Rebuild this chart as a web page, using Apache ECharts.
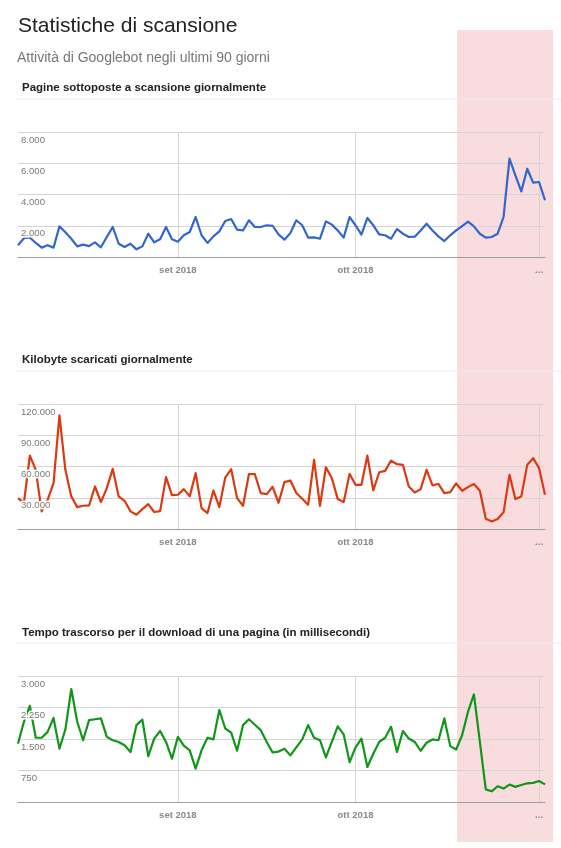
<!DOCTYPE html>
<html><head><meta charset="utf-8">
<script src="https://cdn.jsdelivr.net/npm/echarts@6/dist/echarts.min.js"></script>
<style>html,body{margin:0;padding:0;background:#fff}#c{width:561px;height:848px}</style>
</head><body><div id="c"></div>
<script>
// ---- data ----
const firstDay = '2018-08-05';
const pagesPerDay = [750,1200,1250,900,600,750,600,1960,1580,1170,680,790,700,940,620,1280,1920,850,640,850,
  490,680,1490,940,1130,1920,1130,980,1390,1600,2560,1390,900,1320,1640,2300,2430,1750,1700,2350,
  1920,1920,2030,2000,1450,1110,1540,2350,2030,1240,1260,1170,2280,2070,1700,1240,2560,2030,1430,2500,
  2030,1450,1390,1170,1790,1490,1280,1300,1700,2130,1700,1320,1020,1390,1700,1980,2260,1960,1490,1240,
  1280,1490,2560,6290,5220,4200,5650,4760,4800,3630];
const kbPerDay = [29700,25000,70500,56800,17000,28000,44000,109000,56800,31300,21000,22300,22600,40800,25800,39200,57700,31300,27100,16900,
  13700,19100,23900,16300,17200,49800,32500,32900,38300,31300,53600,20100,15300,37000,21000,49400,57400,29700,22300,52600,
  52600,34500,33500,40500,25200,45000,46600,34500,29000,23300,66400,22300,59300,48800,28700,25800,53000,42400,42400,70500,
  37000,54500,55800,65700,62200,61600,40800,35100,38300,56800,41800,43400,34500,35400,43700,36700,40200,43100,36700,9900,
  7300,9600,16000,52000,28700,31300,61600,68000,58400,32900];
const msPerPage = [1390,1910,2290,1530,1530,1670,2000,1270,1730,2690,1910,1470,1950,1970,1990,1550,1470,1430,1350,1190,
  1830,1960,1090,1510,1690,1430,1030,1550,1340,1230,795,1230,1530,1490,2190,1750,1650,1220,1830,1970,
  1840,1710,1430,1180,1200,1270,1110,1300,1490,1830,1530,1470,1060,1430,1800,1610,950,1300,1510,835,
  1150,1430,1530,1790,1190,1690,1510,1430,1220,1410,1490,1470,1990,1330,1250,1590,2150,2560,1430,300,
  255,375,320,415,360,405,445,455,500,420];
const tickDates = ['2018-09-01','2018-10-01','2018-11-01'];
const tickLabels = ['set 2018','ott 2018','...'];
const pagesAxis = [0,2000,4000,6000,8000];
const kbAxis = [0,30000,60000,90000,120000];
const msAxis = [0,750,1500,2250,3000];
const chartTitles = ['Pagine sottoposte a scansione giornalmente','Kilobyte scaricati giornalmente','Tempo trascorso per il download di una pagina (in millisecondi)'];

// ---- build ----
const t0 = Date.parse(firstDay + 'T00:00:00Z');
const days = pagesPerDay.map((_, i) => new Date(t0 + i * 86400000).toISOString().slice(0, 10));
const fmt = v => v === 0 ? '' : String(v).replace(/\B(?=(\d{3})+(?!\d))/g, '.');
const isTick = (idx, val) => tickDates.indexOf(val) >= 0;

const panels = [
  {data: pagesPerDay, axis: pagesAxis, color: '#3366cc', top: 132, height: 125, titleTop: 82, sepY: 99},
  {data: kbPerDay, axis: kbAxis, color: '#dc3912', top: 404, height: 125, titleTop: 354, sepY: 371},
  {data: msPerPage, axis: msAxis, color: '#109618', top: 676, height: 126, titleTop: 627, sepY: 643}
];
const FONT = 'Arial, "Liberation Sans", sans-serif';

const option = {
  animation: false,
  backgroundColor: '#fff',
  title: [
    {text: 'Statistiche di scansione', left: 18, top: 16, padding: 0,
     textStyle: {fontSize: 21, fontWeight: 'normal', color: '#222', fontFamily: FONT}},
    {text: 'Attività di Googlebot negli ultimi 90 giorni', left: 17, top: 51, padding: 0,
     textStyle: {fontSize: 14, fontWeight: 'normal', color: '#777', fontFamily: FONT}}
  ].concat(panels.map((p, k) => ({
    text: chartTitles[k], left: 22, top: p.titleTop, padding: 0,
    textStyle: {fontSize: 11.5, fontWeight: 'bold', color: '#222', fontFamily: FONT}
  }))),
  graphic: [
    {type: 'rect', z: -1, silent: true, shape: {x: 457, y: 30, width: 96, height: 812},
     style: {fill: 'rgba(231,115,119,0.25)'}}
  ].concat(panels.map(p => ({
    type: 'line', z: -1, silent: true, shape: {x1: 16, y1: p.sepY, x2: 561, y2: p.sepY},
    style: {stroke: '#ececec', lineWidth: 1}
  }))),
  grid: panels.map(p => ({left: 18, right: 16, top: p.top, height: p.height})),
  xAxis: panels.map((p, k) => ({
    gridIndex: k, type: 'category', data: days, boundaryGap: false,
    axisLine: {show: true, lineStyle: {color: '#9e9e9e', width: 1}},
    axisTick: {show: false, interval: isTick},
    axisLabel: {interval: isTick, margin: 8, color: '#888', fontSize: 9.5, fontWeight: 'bold', fontFamily: FONT,
      formatter: v => tickLabels[tickDates.indexOf(v)] || ''},
    splitLine: {show: true, interval: isTick, lineStyle: {color: '#d4d4d4', width: 1}}
  })),
  yAxis: panels.flatMap((p, k) => {
    const base = {gridIndex: k, type: 'value', position: 'left', min: p.axis[0], max: p.axis[p.axis.length - 1],
      interval: p.axis[1] - p.axis[0], axisLine: {show: false}, axisTick: {show: false}};
    return [
      Object.assign({}, base, {axisLabel: {show: false},
        splitLine: {show: true, lineStyle: {color: '#d4d4d4', width: 1}}}),
      Object.assign({}, base, {z: 5, splitLine: {show: false},
        axisLabel: {inside: true, margin: 3, verticalAlign: 'top', padding: [3, 0, 0, 0],
          color: '#7a7a7a', fontSize: 9.6, fontFamily: FONT, textBorderColor: '#fff', textBorderWidth: 3,
          formatter: fmt}})
    ];
  }),
  series: panels.map((p, k) => ({
    type: 'line', xAxisIndex: k, yAxisIndex: 2 * k, data: p.data, symbol: 'none', smooth: false,
    lineStyle: {color: p.color, width: 2.2, join: 'round'}, itemStyle: {color: p.color}
  }))
};
const chart = echarts.init(document.getElementById('c'), null, {renderer: 'canvas'});
chart.setOption(option);
</script>
</body></html>
